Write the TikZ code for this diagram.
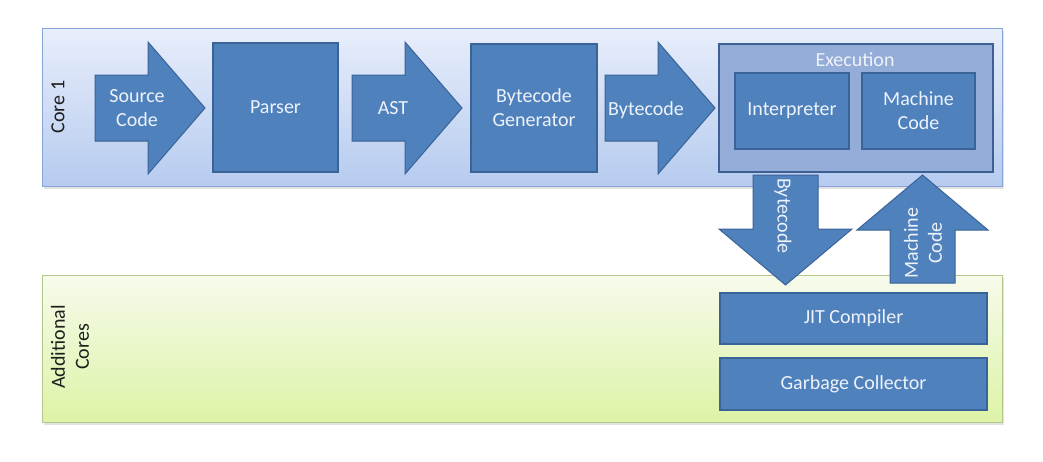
\documentclass[tikz,border=0pt]{standalone}
\usepackage{fontspec}
\setmainfont{Carlito}
\usetikzlibrary{shadows}
\definecolor{boxfill}{HTML}{4F81BD}
\definecolor{boxborder}{HTML}{3A6398}
\definecolor{boxtext}{HTML}{EEF2F9}
\definecolor{execfill}{HTML}{93ACD8}
\definecolor{execborder}{HTML}{3D5F94}
\definecolor{coretop}{HTML}{E8EEFB}
\definecolor{corebot}{HTML}{B6CBEF}
\definecolor{coreborder}{HTML}{88A4D6}
\definecolor{addtop}{HTML}{F6FBEC}
\definecolor{addbot}{HTML}{DDF3A6}
\definecolor{addborder}{HTML}{B4C78A}
\definecolor{lbltext}{HTML}{1E1E1E}
\newcommand\blkfont{\fontsize{20}{24}\selectfont}
\newcommand\blockR[6]{% x0 x1 x2 yc halfshaft halfhead
  \filldraw[barrow] (#1,#4-#5) -- (#2,#4-#5) -- (#2,#4-#6) -- (#3,#4) -- (#2,#4+#6) -- (#2,#4+#5) -- (#1,#4+#5) -- cycle;}
\begin{document}
\begin{tikzpicture}[x=1pt,y=-1pt,
  panel/.style={draw, line width=1pt, inner sep=0pt,
    drop shadow={opacity=0.22, shadow xshift=2pt, shadow yshift=-2.5pt}},
  box/.style={draw=boxborder, line width=1.4pt, fill=boxfill, text=boxtext,
    align=center, inner sep=0pt, font=\blkfont},
  barrow/.style={draw=boxborder, line width=1pt, fill=boxfill},
  lbl/.style={text=boxtext, align=center, inner sep=0pt, font=\blkfont},
  side/.style={text=lbltext, align=center, inner sep=0pt, font=\blkfont, rotate=90}]
\useasboundingbox[fill=white] (0,0) rectangle (1043,461);

% panels
\node[panel, draw=coreborder, top color=coretop, bottom color=corebot,
  minimum width=960pt, minimum height=158pt] (core1) at (522,107) {};
\node[panel, draw=addborder, top color=addtop, bottom color=addbot,
  minimum width=960pt, minimum height=147pt] (addc) at (522,348.5) {};
\node[side] (core1lbl) at (58,107) {Core 1};
\node[side] (addlbl) at (70,347) {Additional\\Cores};

% horizontal block arrows
\blockR{95}{148}{205}{108}{33}{66}
\node[lbl] (srcl) at (137,108) {Source\\Code};
\blockR{352}{405}{462}{108}{33}{66}
\node[lbl] (astl) at (393,108) {AST};
\blockR{605}{658}{715}{108}{33}{66}
\node[lbl] (bcl) at (646,110) {Bytecode};

% boxes
\node[box, minimum width=125pt, minimum height=129pt] (parser) at (275.5,107.5) {Parser};
\node[box, minimum width=126pt, minimum height=128pt] (bgen) at (534,108) {Bytecode\\Generator};
\node[draw=execborder, line width=1.6pt, fill=execfill, minimum width=274pt,
  minimum height=128pt, inner sep=0pt] (exec) at (856,108) {};
\node[lbl] (execl) at (855,60) {Execution};
\node[box, minimum width=114pt, minimum height=76pt] (interp) at (792,111) {Interpreter};
\node[box, minimum width=113pt, minimum height=76pt] (mcode) at (918.5,111) {Machine\\Code};

% vertical block arrows
\filldraw[barrow] (753,175) -- (818,175) -- (818,229) -- (852,229) -- (785.5,285)
  -- (719,229) -- (753,229) -- cycle;
\node[lbl, rotate=-90] (downl) at (783,216) {Bytecode};
\filldraw[barrow] (890,283) -- (955,283) -- (955,230) -- (988,230) -- (922.5,175)
  -- (857,230) -- (890,230) -- cycle;
\node[lbl, rotate=90] (upl) at (923,243) {Machine\\Code};

% additional core boxes
\node[box, minimum width=267pt, minimum height=51pt] (jit) at (853.5,318.5) {JIT Compiler};
\node[box, minimum width=267pt, minimum height=52pt] (gc) at (853.5,384) {Garbage Collector};
\end{tikzpicture}
\end{document}
